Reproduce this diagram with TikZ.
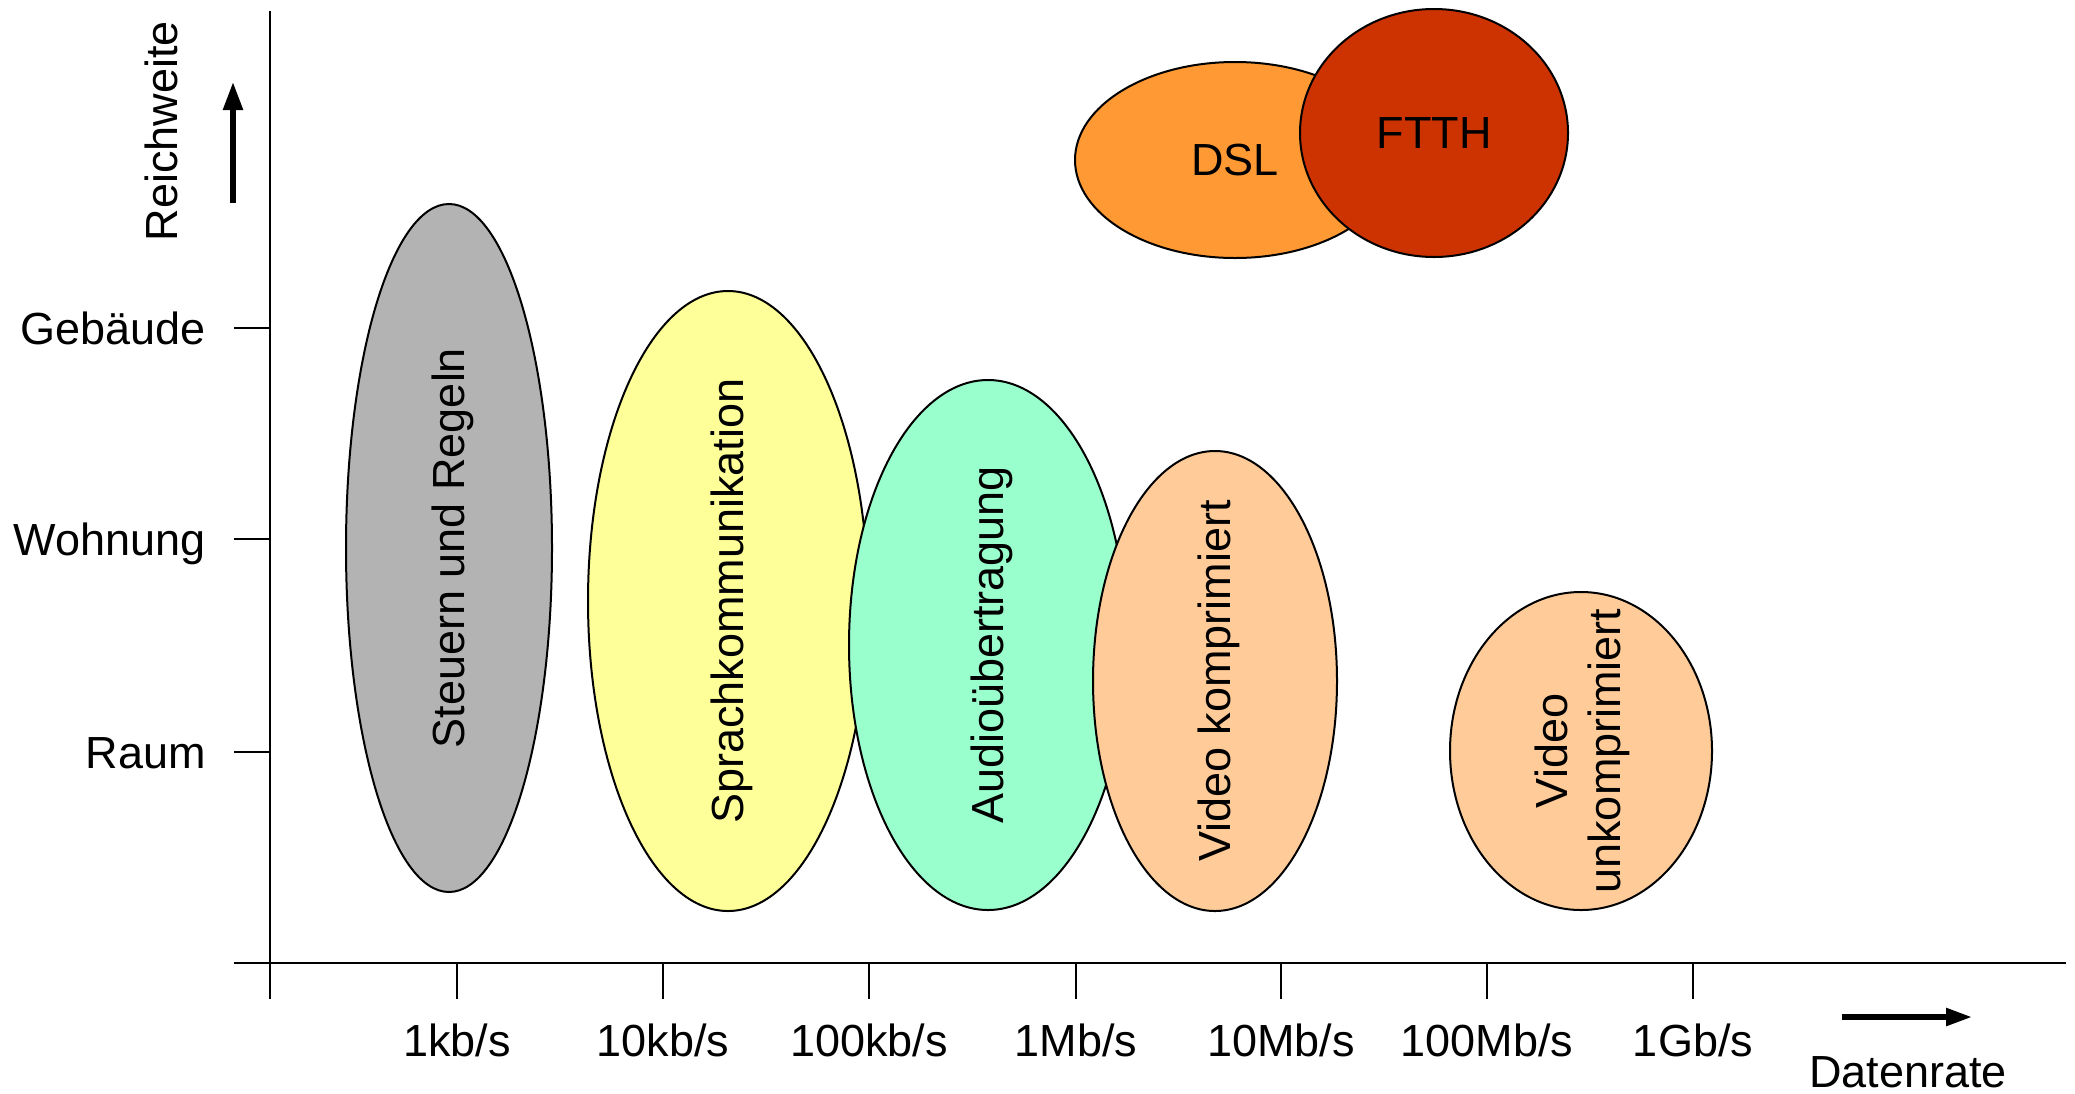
\documentclass[tikz,border=0pt]{standalone}
\usepackage{fontspec}
\setmainfont{Liberation Sans}
\usetikzlibrary{shapes.geometric,arrows.meta}
\definecolor{cgray}{HTML}{B3B3B3}
\definecolor{cyellow}{HTML}{FFFF99}
\definecolor{cmint}{HTML}{99FFCC}
\definecolor{cpeach}{HTML}{FFCC99}
\definecolor{cdsl}{HTML}{FF9933}
\definecolor{cftth}{HTML}{CC3300}
\tikzset{
  blob/.style={ellipse, draw=black, line width=1pt, inner sep=0pt},
  axisline/.style={line width=1.4pt, line cap=butt},
  lbl/.style={inner sep=0pt, font=\fontsize{22.5}{26.5}\selectfont},
  rlbl/.style={inner sep=0pt, xshift=2.5pt},
  bigarrow/.style={line width=2.7pt, -{Triangle[length=14pt,width=9.5pt]}},
}
\newcommand{\rtext}[1]{\rotatebox{90}{\fontsize{22.5}{26.5}\selectfont\begin{tabular}{@{}c@{}}#1\end{tabular}}}
\begin{document}
\begin{tikzpicture}[x=0.5pt,y=-0.5pt]
\useasboundingbox (0,0) rectangle (2075,1093);
% ellipses
\node[blob, fill=cgray, minimum width=103pt, minimum height=344pt] (steuern) at (449,548) {};
\node[rlbl] (steuernT) at (steuern.center) {\rtext{Steuern und Regeln}};
\node[blob, fill=cyellow, minimum width=140pt, minimum height=310pt] (sprach) at (728,601) {};
\node[rlbl] (sprachT) at (sprach.center) {\rtext{Sprachkommunikation}};
\node[blob, fill=cmint, minimum width=139pt, minimum height=265pt] (audio) at (988,645) {};
\node[rlbl] (audioT) at (audio.center) {\rtext{Audioübertragung}};
\node[blob, fill=cpeach, minimum width=122pt, minimum height=230pt] (vkomp) at (1215,681) {};
\node[rlbl] (vkompT) at (vkomp.center) {\rtext{Video komprimiert}};
\node[blob, fill=cpeach, minimum width=131pt, minimum height=159pt] (vunk) at (1581,751) {};
\node[rlbl, xshift=-1.5pt] (vunkT) at (vunk.center) {\rtext{Video\\unkomprimiert}};
\node[blob, fill=cdsl, minimum width=160pt, minimum height=98pt] (dsl) at (1235,160) {};
\node[lbl] (dslT) at (dsl.center) {DSL};
\node[blob, fill=cftth, minimum width=134pt, minimum height=124pt] (ftth) at (1434,133) {};
\node[lbl] (ftthT) at (ftth.center) {FTTH};
% axes
\coordinate (ytop) at (270,11);
\coordinate (ybot) at (270,999);
\coordinate (xl) at (234,963);
\coordinate (xr) at (2066,963);
\draw[axisline] (ytop) -- (ybot);
\draw[axisline] (xl) -- (xr);
% x ticks and labels
\foreach \x/\t in {457/1kb\slash s,663/10kb\slash s,869/100kb\slash s,1076/1Mb\slash s,1281/10Mb\slash s,1487/100Mb\slash s,1693/1Gb\slash s}{
  \coordinate (ta\x) at (\x,963);
  \coordinate (tb\x) at (\x,999);
  \draw[axisline] (ta\x) -- (tb\x);
  \node[lbl, anchor=base] (xl\x) at (\x,1056) {\t};
}
% y ticks and labels
\foreach \y/\t in {328/Gebäude,539/Wohnung,752/Raum}{
  \coordinate (ya\y) at (234,\y);
  \coordinate (yb\y) at (270,\y);
  \draw[axisline] (ya\y) -- (yb\y);
  \node[lbl, anchor=base east] (yl\y) at (206,\y+16) {\t};
}
% axis titles
\node[lbl, rotate=90] (reich) at (161,131) {Reichweite};
\coordinate (ra) at (233,203);
\coordinate (rb) at (233,82);
\draw[bigarrow] (ra) -- (rb);
\node[lbl] (daten) at (1908,1072) {Datenrate};
\coordinate (da) at (1842,1017);
\coordinate (db) at (1972,1017);
\draw[line width=2.7pt, -{Triangle[length=13pt,width=8.5pt]}] (da) -- (db);
\end{tikzpicture}
\end{document}
